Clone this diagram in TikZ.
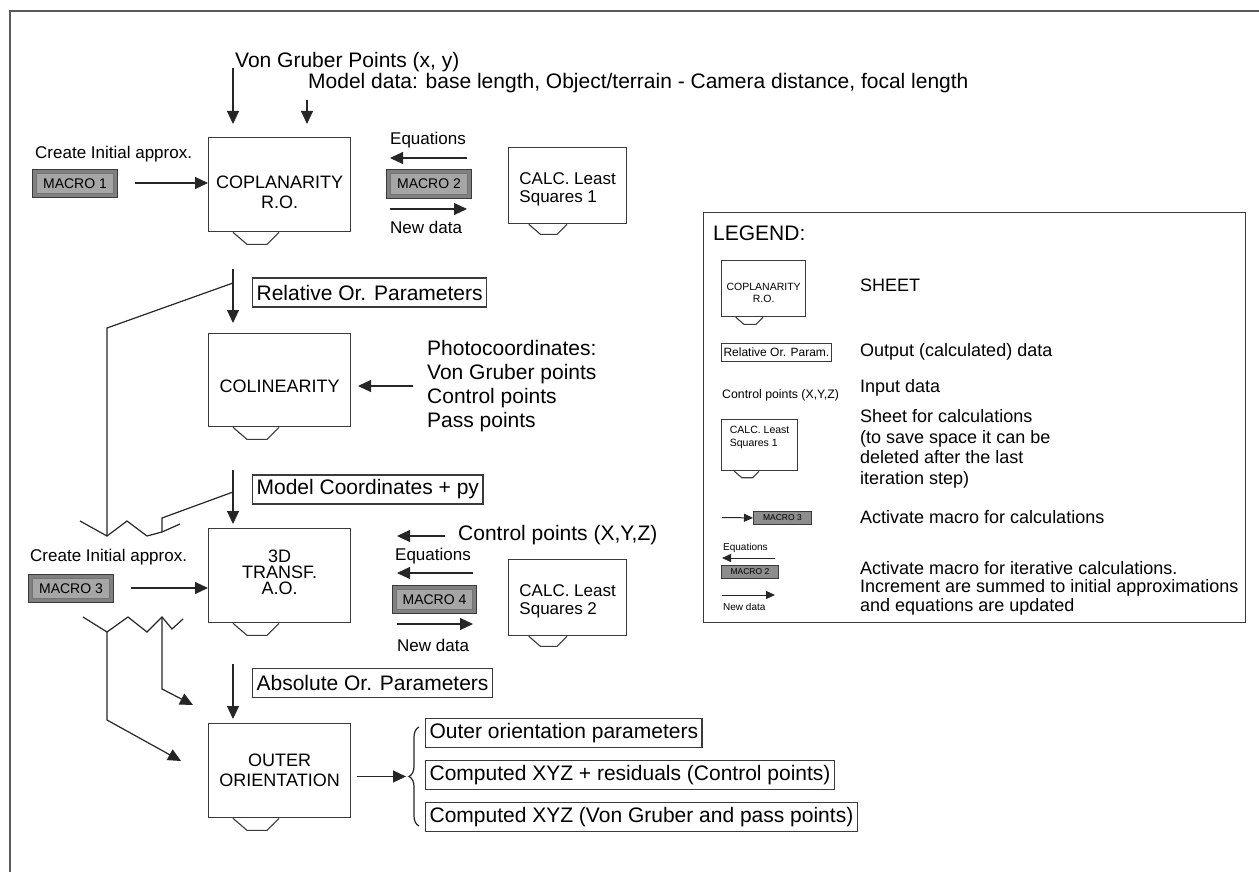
\documentclass[tikz,border=0pt]{standalone}
\usepackage{fontspec}
\setmainfont{Liberation Sans}
\usetikzlibrary{arrows.meta,calc,decorations.pathreplacing}
\definecolor{boxline}{HTML}{3A3A3A}
\definecolor{macroout}{HTML}{808080}
\definecolor{macroin}{HTML}{A6A6A6}
\definecolor{framegray}{HTML}{5A5A5A}
\newcommand\fs[2]{\fontsize{#1}{#2}\selectfont}
\tikzset{
  sheetbox/.style={draw=boxline, line width=1.3pt, fill=white, inner sep=0pt},
  sheettext/.style={inner sep=0pt, align=center},
  outbox/.style={draw=boxline, line width=1.2pt, inner xsep=4pt, inner ysep=0pt, font=\fs{21}{24}, anchor=west, minimum height=29pt},
  bigtext/.style={inner sep=0pt, anchor=west, font=\fs{21}{24}, align=left},
  midtext/.style={inner sep=0pt, anchor=west, font=\fs{17}{20}},
  legtext/.style={inner sep=0pt, anchor=west, font=\fs{18}{20.5}, align=left},
  arr/.style={draw=black!85, line width=1.2pt, -{Triangle[length=13pt,width=12pt]}},
  sarr/.style={draw=black!85, line width=1pt, -{Triangle[length=9pt,width=8pt]}},
  conn/.style={draw=black!85, line width=1.2pt},
  macroouter/.style={draw=boxline, line width=1pt, fill=macroout, inner sep=0pt},
  macroinner/.style={draw=black!55, line width=0.8pt, fill=macroin, inner sep=0pt, font=\fs{14}{16}},
  smallmacro/.style={draw=boxline, line width=0.8pt, fill=macroout!90, inner sep=0pt, font=\fs{8.5}{10}},
}
% sheet: name, x, y (top-left), w, h, text-centre offset, font, text
\newcommand\sheet[8]{%
  \node[sheetbox, anchor=north west, minimum width=#4pt, minimum height=#5pt] (#1) at (#2,#3) {};
  \node[sheettext, font=#7] (#1-t) at ($(#1.center)+(0,#6)$) {#8};
  \draw[line width=1.1pt, draw=boxline]
    ($(#1.south west)+({0.176*#4},0)$) -- ($(#1.south west)+({0.275*#4},{0.085*#4})$)
    -- ($(#1.south west)+({0.415*#4},{0.085*#4})$) -- ($(#1.south west)+({0.5*#4},0)$);
}
% macro button: name, x, y (top-left), w, h, text
\newcommand\macrobtn[6]{%
  \node[macroouter, anchor=north west, minimum width=#4pt, minimum height=#5pt] (#1) at (#2,#3) {};
  \node[macroinner, minimum width=#4pt-8pt, minimum height=#5pt-8pt] (#1-in) at (#1.center) {#6};
}
\begin{document}
\begin{tikzpicture}[x=1pt,y=-1pt]
\useasboundingbox (0,0) rectangle (1259,872);
\fill[white] (0,0) rectangle (1259,872);
% outer frame
\draw[framegray, line width=2pt] (10,872) -- (10,11) -- (1259,11);

% ---------- top inputs ----------
\node[bigtext] (vg) at (235,62) {Von Gruber Points (x, y)};
\node[bigtext] (md) at (308,83) {Model data: base length, Object/terrain - Camera distance, focal length};
\coordinate (a1s) at (233,68);  \coordinate (a1e) at (233,124);
\coordinate (a2s) at (307,100); \coordinate (a2e) at (307,124);
\draw[arr] (a1s) -- (a1e);
\draw[arr] (a2s) -- (a2e);

% ---------- COPLANARITY ----------
\sheet{copl}{208}{137}{142}{94}{8}{\fs{18}{20}}{COPLANARITY\\R.O.}
\node[midtext] (cia1) at (35,154) {Create Initial approx.};
\macrobtn{m1}{32}{169}{85}{28}{MACRO 1}
\coordinate (m1a) at (135,183);
\draw[arr] (m1a) -- (copl.west |- m1a);

% MACRO 2 block
\node[midtext] (eq1) at (390,140) {Equations};
\coordinate (eq1s) at (467,158); \coordinate (eq1e) at (390,158);
\draw[arr] (eq1s) -- (eq1e);
\macrobtn{m2}{386}{169}{85}{29}{MACRO 2}
\coordinate (nd1s) at (390,209); \coordinate (nd1e) at (467,209);
\draw[arr] (nd1s) -- (nd1e);
\node[midtext] (nd1) at (390,227) {New data};
\sheet{calc1}{508}{147}{118}{76}{4}{\fs{17}{18}}{\begin{tabular}{@{}l@{}}CALC. Least\\Squares 1\end{tabular}}

% ---------- Relative Or. ----------
\coordinate (r1s) at (233,269); \coordinate (r1e) at (233,323);
\draw[arr] (r1s) -- (r1e);
\node[outbox] (rel) at (252,292.5) {Relative Or. Parameters};
\coordinate (j1) at (233,283);
\coordinate (k1) at (107,328);
\coordinate (zu1) at (107,536);
\draw[conn] (j1) -- (k1) -- (zu1);

% ---------- COLINEARITY ----------
\sheet{coli}{208}{333}{142}{93}{6}{\fs{18}{20}}{COLINEARITY}
\node[bigtext] (photo) at (427,386) {Photocoordinates:\\Von Gruber points\\Control points\\Pass points};
\coordinate (ph1) at (413,386); \coordinate (ph2) at (358,386);
\draw[arr] (ph1) -- (ph2);

% ---------- Model coordinates ----------
\coordinate (mo1s) at (233,470); \coordinate (mo1e) at (233,524);
\draw[arr] (mo1s) -- (mo1e);
\node[outbox] (modc) at (252,489.5) {Model Coordinates + py};
\coordinate (j2) at (233,492);
\coordinate (k2) at (162,518);
\coordinate (zu2) at (162,532);
\draw[conn] (j2) -- (k2) -- (zu2);

% upper break (zigzag)
\draw[conn] (80,521) -- (zu1) -- (127,521) -- (147,536) -- (zu2) -- (180,524);

% ---------- 3D TRANSF ----------
\node[midtext] (cia2) at (30,557) {Create Initial approx.};
\macrobtn{m3}{28}{574}{85}{28}{MACRO 3}
\coordinate (m3a) at (131,588);
\sheet{tdt}{208}{528}{142}{94}{-3}{\fs{18}{16}}{3D\\TRANSF.\\A.O.}
\draw[arr] (m3a) -- (tdt.west |- m3a);

\node[bigtext] (cp) at (458,535) {Control points (X,Y,Z)};
\coordinate (cp1) at (445,536); \coordinate (cp2) at (397,536);
\draw[arr] (cp1) -- (cp2);
\node[midtext] (eq2) at (395,556) {Equations};
\coordinate (eq2s) at (473,573); \coordinate (eq2e) at (397,573);
\draw[arr] (eq2s) -- (eq2e);
\macrobtn{m4}{392}{585}{84}{28}{MACRO 4}
\coordinate (nd2s) at (397,624); \coordinate (nd2e) at (473,624);
\draw[arr] (nd2s) -- (nd2e);
\node[midtext] (nd2) at (397,645) {New data};
\sheet{calc2}{508}{559}{118}{76}{4}{\fs{17}{18}}{\begin{tabular}{@{}l@{}}CALC. Least\\Squares 2\end{tabular}}

% lower break (zigzag) and lines to OUTER
\coordinate (zl1) at (107,632);
\coordinate (zl2) at (162,617);
\draw[conn] (83,617) -- (zl1) -- (128,617) -- (147,632) -- (zl2) -- (172,629) -- (183,619);
\coordinate (b1) at (107,720); \coordinate (t1) at (181,761);
\coordinate (b2) at (162,689); \coordinate (t2) at (193,705);
\draw[arr] (zl1) -- (b1) -- (t1);
\draw[arr] (zl2) -- (b2) -- (t2);

% ---------- Absolute Or. ----------
\coordinate (ab1s) at (233,664); \coordinate (ab1e) at (233,719);
\draw[arr] (ab1s) -- (ab1e);
\node[outbox] (abs) at (252,683) {Absolute Or. Parameters};

% ---------- OUTER ORIENTATION ----------
\sheet{outer}{208}{723}{142}{94}{0}{\fs{18}{20}}{OUTER\\ORIENTATION}
\coordinate (br1) at (419,826); \coordinate (br2) at (419,727);
\draw[conn, decorate, decoration={brace, amplitude=10pt}] (br1) -- (br2);
\coordinate (brtip) at (406,776.5);
\draw[arr] (outer.east |- brtip) ++(6,0) coordinate (oa) (oa) -- (brtip);
\node[outbox] (o1) at (425,733) {Outer orientation parameters};
\node[outbox] (o2) at (425,775) {Computed XYZ + residuals (Control points)};
\node[outbox] (o3) at (425,817) {Computed XYZ (Von Gruber and pass points)};

% ---------- LEGEND ----------
\node[draw=boxline, line width=1.3pt, anchor=north west, minimum width=542pt, minimum height=410pt, inner sep=0pt] (leg) at (703,212) {};
\node[bigtext] (legt) at (713,233) {LEGEND:};
\sheet{lsheet}{721}{260}{84}{56}{4}{\fs{10.5}{12}}{COPLANARITY\\R.O.}
\node[legtext] (l1) at (860,285) {SHEET};
\node[draw=boxline, line width=1pt, anchor=west, inner xsep=2pt, inner ysep=0pt, minimum height=18pt, font=\fs{12}{14}] (lrel) at (721,352) {Relative Or. Param.};
\node[legtext] (l2) at (860,352) {Output (calculated) data};
\node[inner sep=0pt, anchor=west, font=\fs{12.3}{14}] (lcp) at (722,395) {Control points (X,Y,Z)};
\node[legtext] (l3) at (860,388) {Input data};
\sheet{lcalc}{721}{419}{76}{51}{-8}{\fs{10.5}{13}}{\begin{tabular}{@{}l@{}}CALC. Least\\Squares 1\end{tabular}}
\node[legtext] (l4) at (860,449) {Sheet for calculations\\(to save space it can be\\deleted after the last\\iteration step)};
\node[smallmacro, anchor=north west, minimum width=58pt, minimum height=13pt] (lm3) at (753,511) {MACRO 3};
\coordinate (lm3a) at (722,517.5);
\draw[sarr] (lm3a) -- (lm3.west);
\node[legtext] (l5) at (860,517) {Activate macro for calculations};
\node[inner sep=0pt, anchor=west, font=\fs{10}{12}] (leq) at (723,548) {Equations};
\coordinate (leqs) at (775,558); \coordinate (leqe) at (722,558);
\draw[sarr] (leqs) -- (leqe);
\node[smallmacro, anchor=north west, minimum width=57pt, minimum height=13pt] (lm2) at (721,565) {MACRO 2};
\coordinate (lnds) at (722,595); \coordinate (lnde) at (775,595);
\draw[sarr] (lnds) -- (lnde);
\node[inner sep=0pt, anchor=west, font=\fs{10}{12}] (lnd) at (723,607) {New data};
\node[legtext, font=\fs{18}{18.5}] (l6) at (860,588) {Activate macro for iterative calculations.\\Increment are summed to initial approximations\\and equations are updated};
\end{tikzpicture}
\end{document}
